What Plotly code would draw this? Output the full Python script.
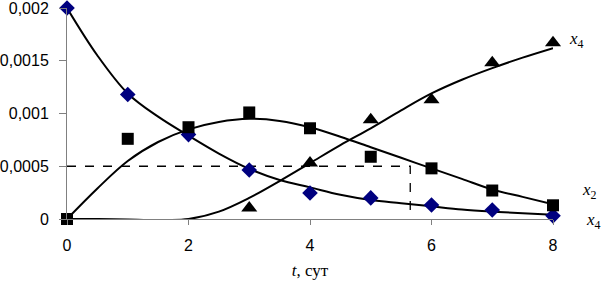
import plotly.graph_objects as go

# Measured points
t_pts = [0, 1, 2, 3, 4, 5, 6, 7, 8]
x1_pts = [0.002, 0.00118, 0.00080, 0.000464, 0.000246, 0.00020, 0.000133, 0.000085, 0.00003]
x2_pts = [0.0, 0.00076, 0.00087, 0.00101, 0.00086, 0.00059, 0.00048, 0.00027, 0.00013]
t3_pts = [3, 4, 5, 6, 7, 8]
x3_pts = [0.000104, 0.00053, 0.00094, 0.00113, 0.00148, 0.00167]

# Model curves
t_curve = [0, 0.5, 1, 1.5, 2, 2.5, 3, 3.5, 4, 4.5, 5, 5.5, 6, 6.5, 7, 7.5, 8]
x1_curve = [0.002, 0.00155, 0.00119, 0.00097, 0.00079, 0.00062, 0.000475, 0.00037, 0.00030, 0.00023, 0.00018,
            0.00015, 0.00012, 0.00009, 0.00007, 0.000055, 0.00004]
x2_curve = [0.0, 0.00029, 0.00055, 0.00073, 0.00085, 0.00092, 0.00095, 0.00093, 0.00087, 0.00078, 0.00068,
            0.00058, 0.00048, 0.00038, 0.00028, 0.00021, 0.00014]
x3_curve = [0.0, 0.0, -0.000005, -0.00001, 0.0, 0.00007, 0.00020, 0.00036, 0.00053, 0.00070, 0.00086,
            0.00103, 0.00119, 0.00132, 0.00143, 0.00153, 0.00162]

threshold_y = 0.0005
threshold_t = 5.65

y_ticks = [0, 0.0005, 0.001, 0.0015, 0.002]
y_tick_labels = ["0", "0,0005", "0,001", "0,0015", "0,002"]
x_ticks = [0, 2, 4, 6, 8]

fig = go.Figure()

fig.add_trace(go.Scatter(x=[0, threshold_t, threshold_t], y=[threshold_y, threshold_y, 0], mode="lines",
                         line=dict(color="black", width=1.3, dash="dash"), cliponaxis=False))

line_style = dict(color="black", width=2, shape="spline", smoothing=1.0)
fig.add_trace(go.Scatter(x=t_curve, y=x1_curve, mode="lines", line=line_style, cliponaxis=False))
fig.add_trace(go.Scatter(x=t_curve, y=x2_curve, mode="lines", line=line_style, cliponaxis=False))
fig.add_trace(go.Scatter(x=t_curve, y=x3_curve, mode="lines", line=line_style, cliponaxis=False))

fig.add_trace(go.Scatter(x=t_pts, y=x1_pts, mode="markers", cliponaxis=False,
                         marker=dict(symbol="diamond", size=12, color="#00007f")))
fig.add_trace(go.Scatter(x=t_pts, y=x2_pts, mode="markers", cliponaxis=False,
                         marker=dict(symbol="square", size=12, color="black")))
fig.add_trace(go.Scatter(x=t3_pts, y=x3_pts, mode="markers", cliponaxis=False,
                         marker=dict(symbol="triangle-up", size=14, color="black")))

label_font = dict(family="Liberation Serif", size=17, color="black")
tick_font = dict(family="Liberation Sans", size=16, color="black")

fig.update_layout(
    width=601, height=286,
    margin=dict(l=67, r=48, t=8, b=67),
    plot_bgcolor="white", paper_bgcolor="white",
    showlegend=False,
    xaxis=dict(range=[0, 8], tickvals=x_ticks, ticktext=[str(v) for v in x_ticks], automargin=False,
               showgrid=False, zeroline=False, showline=True, linecolor="#808080", linewidth=1,
               ticks="outside", ticklen=5, tickcolor="#808080", ticklabeloverflow="allow",
               tickfont=tick_font, ticklabelstandoff=7,
               title=dict(text="<i>t</i>, сут", font=dict(family="Liberation Serif", size=17, color="black"),
                          standoff=10)),
    yaxis=dict(range=[0, 0.002], tickvals=y_ticks, ticktext=y_tick_labels, automargin=False,
               showgrid=False, zeroline=False, showline=True, linecolor="#808080", linewidth=1,
               ticks="outside", ticklen=7, tickcolor="#808080", ticklabeloverflow="allow",
               tickfont=tick_font, ticklabelstandoff=7),
)

def px_annot(px, py, text):
    fig.add_annotation(x=(px - 67) / 486, y=(286 - 67 - py) / 211, xref="paper", yref="paper",
                       text=text, showarrow=False, font=label_font, xanchor="center", yanchor="middle")

px_annot(576, 40, "<i>x</i><sub>4</sub>")
px_annot(589, 191, "<i>x</i><sub>2</sub>")
px_annot(593, 221, "<i>x</i><sub>4</sub>")

fig.write_html("out.html", config={"displayModeBar": False},
               post_script="document.body.style.margin='0';document.body.style.padding='0';"
                           "document.body.style.overflow='hidden';")
